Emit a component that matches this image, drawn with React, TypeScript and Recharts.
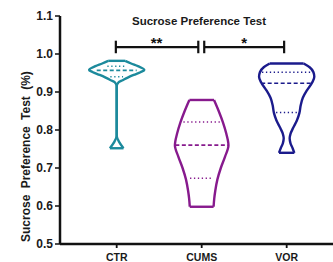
import { ComposedChart, Line, XAxis, YAxis, ReferenceDot } from 'recharts'

// ─── Data ────────────────────────────────────────────────────────────────────

const GROUPS = ['CTR', 'CUMS', 'VOR']
const CENTERS = [1, 2, 3]
const COLORS = ['#1c8a9c', '#871a8d', '#1b1b8c']

const Y_TICKS = [0.5, 0.6, 0.7, 0.8, 0.9, 1.0, 1.1]

// violin outline: value level (top → bottom) and half-width at that level
const CTR_LEVELS = [0.982, 0.975, 0.968, 0.958, 0.952, 0.945, 0.938, 0.931, 0.925, 0.915, 0.85, 0.785, 0.768, 0.752]
const CTR_HALF = [0.1, 0.17, 0.25, 0.325, 0.28, 0.2, 0.13, 0.07, 0.02, 0, 0, 0, 0.03, 0.08]

const CUMS_LEVELS = [0.879, 0.85, 0.82, 0.79, 0.76, 0.73, 0.7, 0.67, 0.64, 0.62, 0.598]
const CUMS_HALF = [0.145, 0.2, 0.25, 0.29, 0.315, 0.275, 0.225, 0.185, 0.16, 0.148, 0.14]

const VOR_LEVELS = [0.975, 0.965, 0.952, 0.94, 0.925, 0.905, 0.885, 0.865, 0.845, 0.825, 0.805, 0.79, 0.778, 0.765, 0.752, 0.74]
const VOR_HALF = [0.2, 0.27, 0.315, 0.325, 0.3, 0.24, 0.19, 0.165, 0.15, 0.12, 0.075, 0.045, 0.035, 0.045, 0.07, 0.09]

// quartile lines: [q3, median, q1] and their drawn half-widths
const CTR_STATS = [0.968, 0.957, 0.94]
const CTR_STATS_HALF = [0.11, 0.235, 0.075]
const CUMS_STATS = [0.821, 0.76, 0.673]
const CUMS_STATS_HALF = [0.215, 0.31, 0.137]
const VOR_STATS = [0.952, 0.923, 0.846]
const VOR_STATS_HALF = [0.29, 0.3, 0.125]

// significance brackets
const BRACKETS = [
  { from: 0.99, to: 1.96, stars: '**', mid: 1.47 },
  { from: 2.03, to: 2.97, stars: '*', mid: 2.5 },
]
const BRACKET_Y = 1.018
const CAP_LOW = 1.002
const CAP_HIGH = 1.035
const STAR_Y = 1.03

const VIOLINS = [
  { levels: CTR_LEVELS, half: CTR_HALF, stats: CTR_STATS, statsHalf: CTR_STATS_HALF },
  { levels: CUMS_LEVELS, half: CUMS_HALF, stats: CUMS_STATS, statsHalf: CUMS_STATS_HALF },
  { levels: VOR_LEVELS, half: VOR_HALF, stats: VOR_STATS, statsHalf: VOR_STATS_HALF },
]

const FONT = '"Liberation Sans", Arial, sans-serif'

type Pt = { x: number; y: number }

function seg(x1: number, y1: number, x2: number, y2: number): Pt[] {
  return [{ x: x1, y: y1 }, { x: x2, y: y2 }]
}

export default function App() {
  const lines: { key: string; data: Pt[]; color: string; width: number; type: 'monotoneY' | 'linear'; dash?: string }[] = []

  VIOLINS.forEach((v, gi) => {
    const c = CENTERS[gi]
    const color = COLORS[gi]
    const n = v.levels.length
    lines.push({ key: `l${gi}`, data: v.levels.map((y, i) => ({ x: c - v.half[i], y })), color, width: 2.4, type: 'monotoneY' })
    lines.push({ key: `r${gi}`, data: v.levels.map((y, i) => ({ x: c + v.half[i], y })), color, width: 2.4, type: 'monotoneY' })
    lines.push({ key: `t${gi}`, data: seg(c - v.half[0], v.levels[0], c + v.half[0], v.levels[0]), color, width: 2.4, type: 'linear' })
    lines.push({ key: `b${gi}`, data: seg(c - v.half[n - 1], v.levels[n - 1], c + v.half[n - 1], v.levels[n - 1]), color, width: 2.4, type: 'linear' })
    v.stats.forEach((s, si) => {
      const h = v.statsHalf[si]
      lines.push({
        key: `s${gi}${si}`,
        data: seg(c - h, s, c + h, s),
        color,
        width: si === 1 ? 1.7 : 1.5,
        type: 'linear',
        dash: si === 1 ? '4 2.5' : '1.3 2.6',
      })
    })
  })

  BRACKETS.forEach((b, bi) => {
    lines.push({ key: `bh${bi}`, data: seg(b.from, BRACKET_Y, b.to, BRACKET_Y), color: '#111', width: 2.2, type: 'linear' })
    lines.push({ key: `bl${bi}`, data: seg(b.from, CAP_LOW, b.from, CAP_HIGH), color: '#111', width: 2.2, type: 'linear' })
    lines.push({ key: `br${bi}`, data: seg(b.to, CAP_LOW, b.to, CAP_HIGH), color: '#111', width: 2.2, type: 'linear' })
  })

  return (
    <div style={{ position: 'absolute', left: 0, top: 0, width: 333, height: 262, background: '#fff' }}>
      <ComposedChart width={333} height={262} margin={{ top: 16, right: 0, bottom: 0, left: 0 }}>
        <XAxis
          type="number"
          dataKey="x"
          domain={[0.333, 3.545]}
          allowDataOverflow
          ticks={CENTERS}
          tickFormatter={(v: number) => GROUPS[Math.round(v) - 1] ?? ''}
          height={18}
          tickSize={4}
          tickMargin={6}
          axisLine={{ stroke: '#111', strokeWidth: 2.5 }}
          tickLine={{ stroke: '#111', strokeWidth: 1.8 }}
          tick={{ fill: '#1a1a1a', fontSize: 10.5, fontWeight: 700, fontFamily: FONT }}
        />
        <YAxis
          type="number"
          dataKey="y"
          domain={[0.5, 1.1]}
          allowDataOverflow
          ticks={Y_TICKS}
          tickFormatter={(v: number) => v.toFixed(1)}
          width={60}
          tickSize={5}
          tickMargin={2}
          axisLine={{ stroke: '#111', strokeWidth: 2.5 }}
          tickLine={{ stroke: '#111', strokeWidth: 1.5 }}
          tick={{ fill: '#1a1a1a', fontSize: 12, fontWeight: 700, fontFamily: FONT }}
        />
        {lines.map((l) => (
          <Line
            key={l.key}
            data={l.data}
            dataKey="y"
            type={l.type}
            stroke={l.color}
            strokeWidth={l.width}
            strokeDasharray={l.dash}
            dot={false}
            activeDot={false}
            isAnimationActive={false}
          />
        ))}
        {BRACKETS.map((b) => (
          <ReferenceDot
            key={b.stars}
            x={b.mid}
            y={STAR_Y}
            r={0}
            fill="none"
            stroke="none"
            label={{ value: b.stars, position: 'center', fill: '#111', fontSize: 15, fontWeight: 700, fontFamily: FONT }}
          />
        ))}
      </ComposedChart>
      <svg width={333} height={262} style={{ position: 'absolute', left: 0, top: 0, pointerEvents: 'none' }}>
        <text x={199} y={25} textAnchor="middle" fontFamily={FONT} fontWeight={700} fontSize={11.5} fill="#1a1a1a">
          Sucrose Preference Test
        </text>
        <text
          x={0}
          y={0}
          transform="translate(30, 242) rotate(-90)"
          textAnchor="start"
          fontFamily={FONT}
          fontWeight={700}
          fontSize={12}
          fill="#1a1a1a"
          style={{ wordSpacing: 3 }}
        >
          Sucrose Preference Test (%)
        </text>
      </svg>
    </div>
  )
}
